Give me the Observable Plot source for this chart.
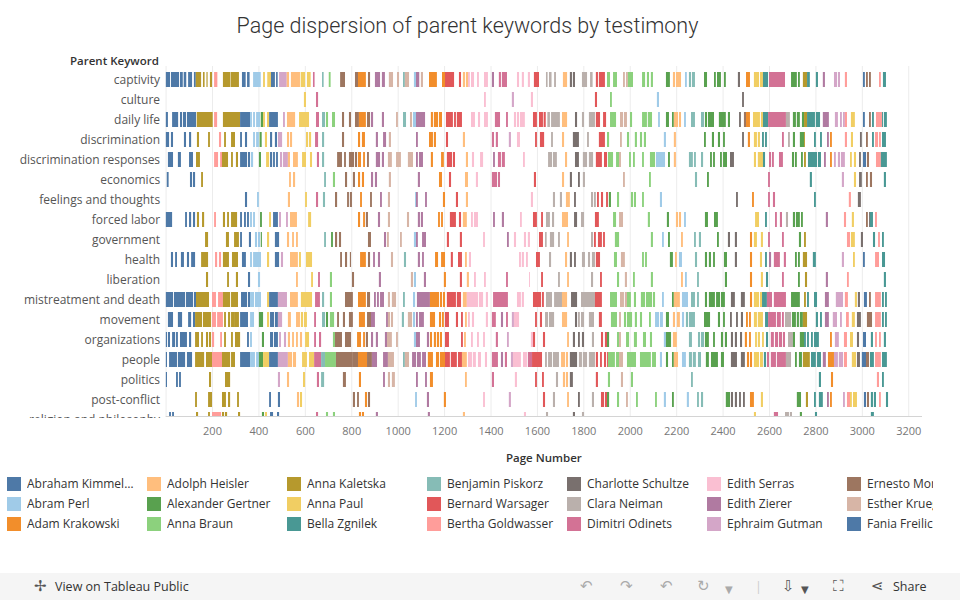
<!DOCTYPE html>
<html><head><meta charset="utf-8">
<script src="https://cdn.jsdelivr.net/npm/d3@7"></script>
<script src="https://cdn.jsdelivr.net/npm/@observablehq/plot@0.6"></script>
<style>
body{margin:0;width:960px;height:600px;overflow:hidden;background:#fff;font-family:"Open Sans",sans-serif;position:relative}
#title{position:absolute;top:12px;left:0;width:935px;text-align:center;font-family:Roboto,sans-serif;font-weight:300;font-size:21.5px;color:#333;line-height:28px}
#chart{position:absolute;top:0;left:0}
#scrollmask{position:absolute;left:0;top:418px;width:164px;height:14px;background:#fff}
.axt{position:absolute;font-family:"Open Sans",sans-serif;font-weight:600;font-size:11.5px;color:#333;line-height:16px;white-space:nowrap}
#legend{position:absolute;left:0;top:470px;width:933px;height:70px;overflow:hidden}
.li{position:absolute;height:14px}
.sw{position:absolute;left:0;top:0;width:14px;height:14px}
.lt{position:absolute;left:20px;top:-2px;width:112px;font-size:12px;line-height:18px;color:#333;white-space:nowrap;overflow:hidden;text-overflow:ellipsis}
#bar{position:absolute;left:0;top:573px;width:960px;height:27px;background:#f5f5f5;font-size:12.5px;color:#333}
#bar span{position:absolute;top:5px;line-height:17px;white-space:nowrap}
.ic{color:#aaa;font-family:"DejaVu Sans",sans-serif;font-size:15px}
</style></head><body>
<div id="title">Page dispersion of parent keywords by testimony</div>
<div id="chart"></div>
<div id="scrollmask"></div>
<div class="axt" id="ylab" style="left:70px;top:53px">Parent Keyword</div>
<div class="axt" id="xlab" style="left:506px;top:450px">Page Number</div>
<div id="legend"></div>
<div id="bar">
<span class="ic" style="left:34px;color:#555">✢</span><span style="left:55px">View on Tableau Public</span>
<span class="ic" style="left:580px">↶</span><span class="ic" style="left:620px">↷</span>
<span class="ic" style="left:660px">↶</span><span class="ic" style="left:697px">↻</span><span class="ic" style="left:725px;font-size:10px;top:8px">▼</span>
<span style="left:755px;color:#ccc">|</span>
<span class="ic" style="left:782px;color:#555">⇩</span><span class="ic" style="left:801px;font-size:10px;top:8px;color:#555">▼</span>
<span class="ic" style="left:833px;color:#555">⛶</span>
<span class="ic" style="left:871px;color:#555">⋖</span><span style="left:893px">Share</span>
</div>
<script>
// ---- testimonies (legend order) and colours ----
const testimonies = ["Abraham Kimmelman","Abram Perl","Adam Krakowski","Adolph Heisler","Alexander Gertner","Anna Braun","Anna Kaletska","Anna Paul","Bella Zgnilek","Benjamin Piskorz","Bernard Warsager","Bertha Goldwasser","Charlotte Schultze","Clara Neiman","Dimitri Odinets","Edith Serras","Edith Zierer","Ephraim Gutman","Ernesto Moreno","Esther Krueger","Fania Freilich"];
const testimonyColors = ["#4e79a7","#a0cbe8","#f28e2b","#ffbe7d","#59a14f","#8cd17d","#b6992d","#f1ce63","#499894","#86bcb6","#e15759","#ff9d9a","#79706e","#bab0ac","#d37295","#fabfd2","#b07aa1","#d4a6c8","#9d7660","#d7b5a6","#4e79a7"];
// short codes used in the page-span lists below
const codes = {B:"Abraham Kimmelman",LB:"Abram Perl",O:"Adam Krakowski",LO:"Adolph Heisler",G:"Alexander Gertner",LG:"Anna Braun",K:"Anna Kaletska",Y:"Anna Paul",T:"Bella Zgnilek",LT:"Benjamin Piskorz",R:"Bernard Warsager",LR:"Bertha Goldwasser",DG:"Charlotte Schultze",LGr:"Clara Neiman",P:"Dimitri Odinets",LP:"Edith Serras",U:"Edith Zierer",LU:"Ephraim Gutman",Br:"Ernesto Moreno",Tn:"Esther Krueger"};

const keywords = ["captivity","culture","daily life","discrimination","discrimination responses","economics","feelings and thoughts","forced labor","government","health","liberation","mistreatment and death","movement","organizations","people","politics","post-conflict","religion and philosophy"];
const xTicks = [200,400,600,800,1000,1200,1400,1600,1800,2000,2200,2400,2600,2800,3000,3200];
const gridTicks = [0,200,400,600,800,1000,1200,1400,1600,1800,2000,2200,2400,2600,2800,3000,3200];

// ---- page spans [first page, last page, testimony code] per keyword ----
const captivity = [[0,19,"B"],[23,58,"B"],[62,74,"B"],[78,89,"B"],[97,114,"B"],[122,130,"B"],[130,153,"K"],[161,168,"K"],[176,181,"K"],[191,200,"K"],[209,223,"LR"],[247,278,"K"],[280,316,"K"],[329,345,"B"],[351,362,"B"],[377,410,"LB"],[420,428,"Y"],[438,454,"Y"],[454,471,"B"],[476,483,"B"],[489,522,"LU"],[522,532,"LO"],[540,579,"LO"],[582,601,"Y"],[609,625,"Y"],[635,642,"P"],[674,681,"LT"],[703,711,"LG"],[752,773,"Br"],[816,829,"Br"],[829,863,"O"],[872,881,"Br"],[902,924,"U"],[932,945,"U"],[962,980,"Tn"],[997,1006,"Tn"],[1023,1031,"LT"],[1031,1049,"Tn"],[1070,1079,"LB"],[1079,1093,"U"],[1100,1109,"Tn"],[1135,1169,"O"],[1191,1204,"O"],[1204,1243,"R"],[1264,1273,"R"],[1281,1290,"LO"],[1294,1303,"LO"],[1303,1311,"LP"],[1316,1329,"LP"],[1342,1350,"LP"],[1372,1389,"LP"],[1406,1415,"U"],[1436,1445,"P"],[1449,1471,"P"],[1514,1523,"LP"],[1535,1544,"LP"],[1561,1570,"LP"],[1587,1609,"R"],[1639,1646,"LGr"],[1652,1663,"LGr"],[1674,1682,"LGr"],[1712,1730,"LO"],[1742,1751,"DG"],[1755,1764,"DG"],[1794,1816,"LGr"],[1829,1840,"LGr"],[1854,1863,"R"],[1867,1893,"R"],[1902,1915,"LG"],[1928,1945,"LG"],[1971,1979,"Tn"],[1984,1992,"Tn"],[1992,2014,"LG"],[2053,2066,"LG"],[2074,2083,"LG"],[2091,2100,"LG"],[2156,2173,"G"],[2186,2195,"LO"],[2199,2221,"LO"],[2238,2246,"LB"],[2255,2264,"LT"],[2268,2281,"LT"],[2320,2333,"G"],[2363,2371,"G"],[2376,2393,"G"],[2406,2414,"G"],[2466,2475,"DG"],[2501,2518,"O"],[2535,2557,"Y"],[2561,2574,"Y"],[2574,2596,"T"],[2600,2669,"P"],[2695,2720,"G"],[2725,2733,"G"],[2746,2764,"K"],[2764,2776,"T"],[2802,2811,"T"],[2832,2841,"U"],[2880,2893,"LU"],[2897,2906,"LU"],[2927,2936,"LR"],[3005,3013,"B"],[3018,3026,"Br"],[3031,3039,"Br"],[3074,3082,"LR"],[3091,3104,"T"]];
const culture = [[596,605,"Y"],[648,657,"P"],[1372,1380,"LP"],[1492,1501,"LU"],[1574,1583,"LP"],[1850,1859,"R"],[1915,1923,"LG"],[2117,2126,"LB"],[2484,2492,"DG"]];
const dailyLife = [[0,10,"B"],[28,54,"B"],[62,71,"B"],[75,88,"B"],[92,131,"B"],[134,203,"K"],[209,222,"LR"],[247,321,"K"],[321,364,"B"],[364,372,"LB"],[377,385,"LB"],[390,407,"LB"],[410,420,"G"],[420,428,"Y"],[437,446,"Y"],[446,484,"B"],[506,514,"LU"],[523,558,"LO"],[575,618,"Y"],[648,661,"P"],[674,687,"LT"],[691,700,"LG"],[717,730,"LG"],[760,769,"Br"],[790,799,"Br"],[816,833,"Br"],[833,863,"O"],[868,881,"Br"],[885,894,"U"],[932,941,"U"],[993,1001,"Tn"],[1023,1036,"LT"],[1053,1062,"Tn"],[1066,1079,"LB"],[1079,1118,"U"],[1143,1152,"O"],[1156,1174,"O"],[1178,1191,"O"],[1208,1238,"R"],[1243,1251,"R"],[1255,1277,"R"],[1316,1333,"LP"],[1346,1355,"LP"],[1372,1389,"LP"],[1419,1441,"P"],[1467,1475,"P"],[1501,1510,"LP"],[1514,1523,"LP"],[1527,1548,"LP"],[1583,1600,"R"],[1609,1626,"R"],[1629,1638,"R"],[1645,1656,"LGr"],[1661,1699,"LGr"],[1708,1730,"LO"],[1764,1773,"DG"],[1794,1803,"LGr"],[1824,1850,"LGr"],[1854,1872,"R"],[1885,1898,"R"],[1915,1941,"LG"],[1958,1971,"Tn"],[1975,1988,"Tn"],[2001,2010,"LG"],[2053,2074,"LG"],[2078,2096,"LG"],[2122,2130,"LB"],[2156,2169,"G"],[2182,2190,"G"],[2190,2208,"LO"],[2212,2221,"LO"],[2234,2242,"LB"],[2264,2281,"LT"],[2307,2320,"LT"],[2324,2333,"G"],[2337,2363,"G"],[2384,2414,"G"],[2423,2432,"G"],[2471,2479,"DG"],[2492,2501,"Br"],[2501,2518,"O"],[2531,2561,"Y"],[2565,2574,"Y"],[2574,2596,"T"],[2596,2673,"P"],[2673,2690,"LGr"],[2703,2716,"G"],[2720,2733,"G"],[2742,2751,"G"],[2751,2764,"K"],[2764,2798,"T"],[2802,2820,"T"],[2832,2858,"U"],[2884,2897,"LU"],[2906,2914,"LU"],[2919,2927,"LU"],[2927,2936,"LR"],[2953,2970,"Y"],[3005,3013,"B"],[3031,3039,"Br"],[3044,3052,"T"],[3061,3087,"LR"],[3087,3091,"T"],[3095,3108,"T"]];
const discrimination = [[0,15,"B"],[23,32,"B"],[79,88,"B"],[101,110,"B"],[135,144,"K"],[183,191,"K"],[230,239,"LR"],[252,260,"K"],[282,299,"K"],[321,329,"B"],[342,351,"B"],[377,385,"LB"],[390,402,"LB"],[405,414,"G"],[428,437,"Y"],[450,459,"B"],[471,480,"B"],[484,502,"LU"],[523,532,"LO"],[536,545,"LO"],[605,614,"Y"],[618,627,"Y"],[644,657,"P"],[674,683,"LT"],[760,769,"Br"],[829,838,"O"],[846,859,"O"],[906,915,"U"],[937,950,"U"],[962,971,"Tn"],[1079,1087,"U"],[1135,1152,"O"],[1156,1165,"O"],[1208,1217,"R"],[1281,1290,"LO"],[1406,1415,"P"],[1423,1432,"P"],[1479,1488,"LU"],[1514,1527,"LP"],[1592,1600,"R"],[1613,1631,"R"],[1661,1669,"LGr"],[1708,1717,"LO"],[1755,1781,"DG"],[1816,1824,"LGr"],[1867,1893,"R"],[1902,1911,"LG"],[1958,1966,"Tn"],[1988,1997,"LG"],[2022,2031,"LG"],[2044,2053,"LG"],[2061,2070,"LG"],[2147,2156,"LB"],[2190,2199,"LO"],[2320,2328,"G"],[2354,2363,"G"],[2380,2389,"G"],[2402,2410,"G"],[2484,2492,"DG"],[2509,2518,"O"],[2535,2548,"Y"],[2552,2561,"Y"],[2570,2578,"T"],[2583,2591,"T"],[2656,2664,"P"],[2682,2690,"LGr"],[2703,2712,"G"],[2733,2751,"G"],[2751,2755,"K"],[2794,2802,"T"],[2820,2828,"T"],[2850,2858,"U"],[2863,2871,"O"],[2927,2936,"LR"],[2953,2962,"Y"],[2992,3000,"DG"],[3018,3026,"Br"],[3044,3052,"T"],[3057,3070,"LR"],[3074,3082,"LR"],[3087,3104,"T"]];
const discriminationResponses = [[10,32,"B"],[53,66,"B"],[101,118,"B"],[131,148,"K"],[209,226,"LR"],[235,243,"LR"],[243,269,"K"],[282,290,"K"],[303,312,"K"],[321,351,"B"],[355,364,"B"],[368,377,"LB"],[402,411,"G"],[433,446,"Y"],[450,459,"B"],[463,471,"B"],[476,484,"B"],[493,502,"LU"],[506,527,"LU"],[527,536,"LO"],[549,570,"LO"],[588,605,"Y"],[622,631,"Y"],[652,661,"P"],[674,683,"LT"],[739,760,"Br"],[769,777,"Br"],[790,812,"Br"],[816,825,"Br"],[829,842,"O"],[851,859,"O"],[868,876,"Br"],[906,924,"U"],[932,941,"U"],[958,975,"Tn"],[993,1014,"Tn"],[1044,1066,"Tn"],[1079,1087,"U"],[1092,1109,"U"],[1143,1152,"O"],[1187,1199,"O"],[1212,1234,"R"],[1238,1247,"R"],[1294,1303,"LO"],[1320,1329,"LP"],[1355,1368,"LP"],[1411,1419,"U"],[1432,1445,"P"],[1449,1462,"P"],[1540,1548,"LP"],[1648,1665,"LGr"],[1669,1686,"LGr"],[1721,1730,"LO"],[1764,1781,"DG"],[1798,1816,"LGr"],[1824,1842,"LGr"],[1854,1880,"R"],[1889,1902,"R"],[1906,1928,"LG"],[1941,1954,"LG"],[1954,1962,"Tn"],[1997,2005,"LG"],[2014,2022,"LG"],[2053,2061,"LG"],[2087,2109,"LG"],[2113,2152,"LB"],[2165,2173,"G"],[2190,2199,"LO"],[2255,2272,"LT"],[2277,2285,"LT"],[2307,2316,"LT"],[2346,2354,"G"],[2359,2367,"G"],[2389,2397,"G"],[2402,2419,"G"],[2432,2449,"DG"],[2535,2544,"Y"],[2552,2574,"Y"],[2574,2583,"T"],[2600,2609,"P"],[2613,2621,"P"],[2643,2660,"P"],[2699,2708,"G"],[2712,2720,"G"],[2738,2746,"G"],[2751,2759,"K"],[2768,2807,"T"],[2811,2824,"T"],[2837,2845,"U"],[2863,2871,"O"],[2880,2888,"LU"],[2897,2906,"LU"],[2910,2927,"LU"],[2949,2957,"Y"],[2966,2975,"Y"],[2988,2996,"DG"],[3005,3018,"B"],[3022,3031,"Br"],[3061,3082,"LR"],[3082,3108,"T"]];
const economics = [[5,13,"B"],[105,114,"B"],[118,127,"B"],[153,161,"K"],[532,540,"LO"],[549,558,"LO"],[683,691,"LT"],[721,730,"LG"],[773,782,"Br"],[807,816,"Br"],[829,838,"O"],[846,855,"O"],[885,894,"U"],[902,911,"U"],[962,971,"Tn"],[1087,1096,"U"],[1178,1191,"O"],[1221,1230,"R"],[1290,1303,"LO"],[1337,1346,"LP"],[1406,1428,"P"],[1432,1441,"P"],[1587,1596,"R"],[1708,1717,"LO"],[1742,1751,"DG"],[1777,1785,"DG"],[1798,1807,"LGr"],[1971,1979,"Tn"],[2083,2091,"LG"],[2281,2290,"LT"],[2333,2341,"G"],[2596,2604,"P"],[2776,2785,"T"],[2914,2923,"LU"],[2966,2975,"Y"],[2988,3000,"DG"],[3018,3026,"Br"],[3035,3044,"Br"],[3095,3104,"T"]];
const feelingsAndThoughts = [[342,351,"B"],[394,402,"LB"],[527,536,"LO"],[601,609,"Y"],[648,657,"P"],[678,687,"LT"],[730,739,"Br"],[782,790,"Br"],[794,803,"Br"],[838,846,"O"],[881,889,"Br"],[924,932,"U"],[958,967,"Tn"],[1075,1079,"LB"],[1079,1087,"U"],[1118,1126,"U"],[1195,1204,"O"],[1251,1260,"R"],[1294,1303,"LO"],[1574,1583,"LP"],[1669,1678,"LGr"],[1699,1708,"LGr"],[1725,1742,"LO"],[1760,1768,"DG"],[1833,1842,"LGr"],[1846,1854,"LGr"],[1859,1867,"R"],[1876,1885,"R"],[1898,1906,"R"],[1910,1919,"G"],[1945,1954,"LG"],[2005,2014,"LG"],[2018,2027,"LG"],[2053,2061,"LG"],[2130,2139,"LB"],[2458,2466,"DG"],[2527,2535,"O"],[2596,2604,"P"],[2617,2626,"P"],[2794,2802,"T"],[2944,2953,"LR"],[2983,2996,"DG"]];
const forcedLabor = [[0,28,"B"],[84,92,"B"],[101,110,"B"],[118,127,"B"],[135,144,"K"],[157,166,"K"],[209,217,"LR"],[247,256,"K"],[265,273,"K"],[282,308,"K"],[321,329,"B"],[338,346,"B"],[351,359,"B"],[364,372,"LB"],[377,385,"LB"],[407,415,"G"],[446,454,"Y"],[463,484,"B"],[489,497,"LU"],[519,527,"LU"],[536,566,"LO"],[614,627,"Y"],[829,838,"O"],[851,859,"O"],[863,872,"Br"],[915,924,"U"],[958,967,"Tn"],[1040,1049,"Tn"],[1087,1096,"U"],[1100,1109,"U"],[1174,1182,"O"],[1187,1195,"O"],[1225,1251,"R"],[1264,1273,"R"],[1281,1298,"LO"],[1316,1324,"LP"],[1329,1346,"LP"],[1411,1419,"U"],[1449,1458,"U"],[1527,1535,"LP"],[1583,1600,"R"],[1618,1626,"R"],[1639,1656,"LGr"],[1665,1674,"LGr"],[1708,1734,"LO"],[1760,1773,"DG"],[1790,1803,"LGr"],[1850,1867,"R"],[1928,1941,"LG"],[1954,1971,"Tn"],[2078,2087,"LG"],[2160,2169,"G"],[2199,2208,"LO"],[2212,2221,"LO"],[2234,2242,"LB"],[2324,2337,"G"],[2363,2380,"G"],[2540,2557,"Y"],[2583,2591,"T"],[2626,2634,"P"],[2647,2656,"P"],[2673,2682,"LGr"],[2703,2712,"G"],[2716,2733,"G"],[2738,2746,"G"],[2845,2854,"U"],[2923,2932,"LR"],[2957,2966,"Y"],[3018,3026,"Br"],[3031,3035,"DG"],[3035,3048,"T"],[3057,3065,"LR"]];
const government = [[170,183,"K"],[260,273,"K"],[295,316,"K"],[321,329,"B"],[359,368,"B"],[385,394,"LB"],[398,407,"LB"],[410,415,"G"],[437,446,"Y"],[471,489,"B"],[523,532,"LO"],[545,553,"LO"],[562,570,"LO"],[683,691,"LT"],[713,721,"G"],[730,739,"Br"],[747,756,"Br"],[872,885,"Br"],[941,950,"U"],[954,962,"Tn"],[1010,1018,"Tn"],[1070,1079,"LB"],[1079,1087,"U"],[1105,1122,"U"],[1212,1221,"R"],[1268,1277,"R"],[1368,1376,"LP"],[1471,1479,"U"],[1501,1510,"LP"],[1544,1553,"LP"],[1561,1570,"LP"],[1609,1626,"R"],[1635,1642,"LGr"],[1656,1674,"LGr"],[1691,1699,"LGr"],[1730,1738,"LO"],[1833,1842,"LGr"],[1846,1854,"R"],[1863,1880,"R"],[1885,1893,"R"],[1936,1954,"LG"],[2091,2100,"LG"],[2139,2147,"LB"],[2165,2173,"G"],[2221,2229,"LO"],[2277,2285,"LT"],[2298,2307,"LT"],[2376,2384,"G"],[2423,2432,"DG"],[2453,2462,"DG"],[2518,2527,"O"],[2535,2548,"Y"],[2565,2574,"Y"],[2596,2604,"P"],[2656,2664,"P"],[2729,2738,"G"],[2751,2759,"K"],[2936,2949,"LR"],[2953,2970,"Y"],[2996,3005,"DG"],[3048,3057,"T"],[3070,3078,"LR"],[3087,3095,"T"]];
const health = [[23,32,"B"],[41,49,"B"],[66,79,"B"],[92,101,"B"],[110,127,"B"],[153,183,"K"],[213,222,"LR"],[230,239,"LR"],[247,273,"K"],[286,312,"K"],[329,346,"B"],[364,372,"LB"],[377,411,"LB"],[437,446,"Y"],[471,489,"B"],[497,506,"LU"],[536,570,"LO"],[575,583,"Y"],[605,631,"Y"],[752,760,"Br"],[773,782,"Br"],[794,799,"Br"],[838,863,"O"],[872,881,"Br"],[894,902,"U"],[915,924,"U"],[971,980,"Tn"],[1027,1036,"LT"],[1087,1096,"U"],[1105,1113,"U"],[1161,1174,"O"],[1187,1204,"O"],[1229,1238,"R"],[1260,1277,"R"],[1290,1298,"LO"],[1307,1316,"LP"],[1523,1531,"LP"],[1535,1544,"LP"],[1553,1561,"LP"],[1596,1613,"R"],[1652,1661,"LGr"],[1721,1730,"LO"],[1742,1751,"DG"],[1760,1768,"DG"],[1794,1807,"LGr"],[1820,1829,"LGr"],[1837,1850,"LGr"],[1854,1872,"R"],[1932,1945,"LG"],[1962,1979,"Tn"],[2053,2061,"LG"],[2066,2074,"LG"],[2173,2186,"G"],[2195,2203,"LO"],[2212,2225,"LB"],[2281,2290,"LT"],[2324,2333,"G"],[2341,2350,"G"],[2359,2367,"G"],[2406,2419,"G"],[2453,2462,"DG"],[2518,2527,"O"],[2561,2570,"Y"],[2583,2591,"T"],[2600,2609,"U"],[2621,2647,"P"],[2664,2673,"P"],[2712,2720,"G"],[2725,2733,"G"],[2746,2764,"K"],[2789,2802,"T"],[2914,2923,"LU"],[2962,2970,"Y"],[3005,3013,"B"],[3057,3074,"LR"],[3087,3100,"T"]];
const liberation = [[174,183,"K"],[265,273,"K"],[303,312,"K"],[355,364,"B"],[398,407,"LB"],[562,570,"LO"],[627,635,"Y"],[657,665,"P"],[708,717,"LG"],[803,812,"Br"],[919,928,"U"],[1057,1066,"Tn"],[1070,1079,"LB"],[1113,1122,"U"],[1199,1208,"O"],[1268,1277,"R"],[1298,1307,"LO"],[1329,1337,"LP"],[1372,1380,"LP"],[1467,1475,"P"],[1566,1570,"LP"],[1618,1626,"R"],[1691,1699,"LGr"],[1730,1738,"LO"],[1833,1842,"LGr"],[1872,1880,"R"],[1945,1954,"LG"],[1979,1988,"Tn"],[2014,2022,"LG"],[2091,2100,"LG"],[2221,2229,"LO"],[2238,2246,"LB"],[2290,2298,"LT"],[2410,2419,"G"],[2518,2527,"O"],[2565,2574,"Y"],[2587,2596,"T"],[2656,2664,"P"],[2725,2733,"G"],[2755,2764,"K"],[2845,2854,"U"],[2936,2944,"LR"],[3095,3104,"T"]];
const mistreatmentAndDeath = [[0,32,"B"],[36,84,"B"],[88,118,"B"],[122,131,"B"],[131,187,"K"],[200,217,"LR"],[226,247,"LR"],[247,278,"K"],[282,312,"K"],[325,351,"B"],[355,364,"B"],[364,381,"LB"],[385,411,"LB"],[437,446,"Y"],[446,484,"B"],[484,523,"LU"],[536,570,"LO"],[583,631,"Y"],[644,665,"P"],[674,683,"LT"],[708,717,"LG"],[773,807,"Br"],[829,863,"O"],[868,881,"Br"],[898,906,"U"],[911,919,"U"],[924,941,"U"],[958,967,"Tn"],[975,993,"Tn"],[1023,1031,"LT"],[1066,1075,"LB"],[1083,1139,"U"],[1139,1178,"O"],[1182,1191,"O"],[1195,1204,"O"],[1212,1251,"R"],[1255,1273,"R"],[1281,1298,"LO"],[1298,1346,"LP"],[1350,1368,"LP"],[1380,1389,"LP"],[1411,1475,"P"],[1514,1531,"LP"],[1535,1544,"LP"],[1583,1618,"R"],[1622,1630,"R"],[1639,1665,"LGr"],[1674,1708,"LGr"],[1708,1730,"LO"],[1747,1773,"DG"],[1790,1850,"LGr"],[1850,1880,"R"],[1915,1945,"LG"],[1958,1975,"Tn"],[1979,1988,"Tn"],[1988,2005,"LG"],[2018,2027,"LG"],[2048,2066,"LG"],[2070,2096,"LG"],[2100,2109,"LG"],[2139,2147,"LB"],[2182,2190,"G"],[2190,2216,"LO"],[2225,2251,"LB"],[2264,2281,"LT"],[2290,2298,"LT"],[2324,2333,"G"],[2341,2367,"G"],[2372,2389,"G"],[2393,2410,"G"],[2436,2453,"DG"],[2479,2496,"DG"],[2518,2527,"O"],[2535,2557,"Y"],[2561,2570,"Y"],[2570,2591,"T"],[2591,2613,"P"],[2621,2673,"P"],[2695,2733,"G"],[2751,2759,"K"],[2764,2772,"T"],[2794,2807,"T"],[2841,2858,"U"],[2888,2919,"LU"],[2927,2940,"LR"],[2970,2979,"Y"],[2983,2992,"DG"],[3009,3022,"B"],[3031,3039,"Br"],[3057,3082,"LR"],[3087,3095,"T"],[3100,3108,"T"]];
const movement = [[10,32,"B"],[53,71,"B"],[97,110,"B"],[118,127,"B"],[127,157,"K"],[161,196,"K"],[200,217,"LR"],[222,247,"LR"],[252,260,"K"],[269,278,"K"],[282,295,"K"],[295,316,"K"],[321,355,"B"],[364,381,"LB"],[402,420,"G"],[437,446,"Y"],[450,467,"B"],[471,484,"B"],[484,502,"LU"],[527,540,"LO"],[562,579,"LO"],[583,592,"Y"],[596,609,"Y"],[640,648,"P"],[674,687,"LT"],[691,700,"G"],[708,726,"LG"],[739,747,"Br"],[764,773,"Br"],[790,807,"Br"],[833,859,"O"],[868,885,"Br"],[885,902,"U"],[950,958,"U"],[958,967,"Tn"],[971,980,"Tn"],[1018,1027,"LT"],[1044,1062,"Tn"],[1066,1075,"LB"],[1079,1087,"U"],[1092,1113,"U"],[1139,1161,"O"],[1178,1187,"O"],[1191,1199,"O"],[1204,1221,"R"],[1251,1260,"R"],[1273,1281,"R"],[1290,1298,"LO"],[1303,1311,"LP"],[1320,1329,"LP"],[1380,1389,"LP"],[1406,1423,"P"],[1445,1454,"U"],[1467,1475,"P"],[1492,1501,"LU"],[1501,1523,"LP"],[1592,1600,"R"],[1613,1622,"R"],[1635,1648,"LGr"],[1652,1674,"LGr"],[1708,1730,"LO"],[1764,1773,"DG"],[1777,1785,"LGr"],[1790,1803,"LGr"],[1824,1846,"LGr"],[1867,1880,"R"],[1919,1945,"LG"],[1954,1962,"Tn"],[1975,1984,"LG"],[1988,2010,"LG"],[2022,2031,"LG"],[2044,2053,"LG"],[2083,2091,"LG"],[2109,2126,"LB"],[2130,2143,"LB"],[2156,2169,"G"],[2186,2195,"LO"],[2203,2216,"LO"],[2225,2234,"LB"],[2242,2251,"LT"],[2255,2281,"LT"],[2320,2346,"G"],[2380,2389,"G"],[2402,2410,"G"],[2432,2440,"DG"],[2458,2466,"DG"],[2479,2488,"DG"],[2501,2509,"O"],[2514,2522,"O"],[2535,2548,"Y"],[2552,2574,"Y"],[2583,2596,"T"],[2596,2630,"P"],[2634,2651,"P"],[2656,2664,"P"],[2669,2695,"LGr"],[2699,2716,"G"],[2720,2729,"G"],[2733,2746,"G"],[2746,2764,"K"],[2802,2811,"T"],[2820,2828,"T"],[2841,2858,"U"],[2875,2893,"LU"],[2906,2914,"LU"],[2932,2944,"LR"],[2957,2970,"Y"],[2979,2996,"DG"],[3022,3044,"Br"],[3057,3082,"LR"],[3087,3095,"T"],[3100,3108,"T"]];
const organizations = [[0,6,"B"],[10,19,"B"],[28,41,"B"],[45,53,"B"],[62,92,"B"],[101,110,"B"],[127,144,"K"],[153,161,"K"],[174,183,"K"],[187,196,"K"],[200,209,"LR"],[235,243,"LR"],[252,260,"K"],[282,290,"K"],[299,321,"K"],[351,359,"B"],[364,372,"LB"],[415,424,"G"],[450,463,"B"],[467,484,"B"],[489,497,"LU"],[510,519,"LU"],[527,536,"LO"],[545,553,"LO"],[562,570,"LO"],[579,588,"LO"],[601,618,"Y"],[640,648,"P"],[661,670,"P"],[721,730,"LG"],[730,760,"Br"],[773,799,"Br"],[825,842,"O"],[851,859,"O"],[863,872,"Br"],[885,894,"U"],[906,915,"U"],[945,954,"U"],[954,975,"Tn"],[993,1001,"Tn"],[1070,1079,"LB"],[1079,1096,"U"],[1126,1135,"U"],[1139,1148,"O"],[1156,1165,"O"],[1169,1178,"O"],[1182,1191,"O"],[1204,1221,"R"],[1273,1281,"R"],[1286,1294,"LO"],[1316,1324,"LP"],[1342,1350,"LP"],[1368,1376,"LP"],[1423,1432,"P"],[1471,1479,"LU"],[1574,1583,"LP"],[1583,1592,"R"],[1626,1635,"R"],[1730,1738,"LO"],[1755,1764,"DG"],[1777,1785,"DG"],[1794,1803,"DG"],[1837,1846,"LGr"],[1876,1885,"R"],[1893,1902,"R"],[1902,1911,"G"],[1945,1954,"LG"],[1954,1962,"Tn"],[1984,1997,"LG"],[2018,2031,"LG"],[2057,2070,"LG"],[2087,2096,"LG"],[2147,2156,"LB"],[2156,2178,"G"],[2186,2203,"LO"],[2255,2268,"LT"],[2294,2303,"LT"],[2307,2320,"LT"],[2324,2341,"G"],[2359,2367,"G"],[2393,2402,"G"],[2410,2419,"G"],[2436,2445,"DG"],[2453,2462,"DG"],[2475,2484,"DG"],[2496,2505,"O"],[2514,2522,"O"],[2540,2548,"Y"],[2552,2561,"Y"],[2570,2578,"Y"],[2587,2596,"T"],[2608,2621,"P"],[2626,2639,"P"],[2643,2656,"P"],[2660,2669,"P"],[2682,2703,"LGr"],[2703,2712,"G"],[2733,2751,"G"],[2751,2759,"T"],[2764,2772,"T"],[2781,2789,"T"],[2794,2815,"T"],[2863,2871,"O"],[2884,2901,"LU"],[2923,2936,"LR"],[2949,2962,"Y"],[2979,2988,"DG"],[3005,3018,"B"],[3039,3048,"T"],[3057,3065,"LR"],[3074,3082,"LR"],[3095,3104,"T"]];
const people = [[0,6,"B"],[15,49,"B"],[53,84,"B"],[92,114,"B"],[127,166,"K"],[174,200,"K"],[200,243,"LR"],[243,278,"K"],[282,299,"K"],[321,364,"B"],[364,385,"LB"],[390,402,"LB"],[402,420,"G"],[420,446,"Y"],[446,484,"B"],[484,527,"LU"],[527,545,"LO"],[549,562,"LO"],[588,609,"Y"],[618,640,"Y"],[640,670,"P"],[670,687,"LT"],[687,734,"LG"],[734,807,"Br"],[807,829,"Br"],[829,868,"O"],[868,889,"Br"],[889,911,"U"],[937,958,"U"],[958,984,"Tn"],[1023,1031,"LT"],[1031,1049,"Tn"],[1062,1079,"U"],[1083,1100,"U"],[1105,1122,"U"],[1130,1152,"O"],[1165,1178,"O"],[1182,1204,"O"],[1204,1225,"R"],[1229,1255,"R"],[1260,1277,"R"],[1277,1298,"LO"],[1303,1320,"LP"],[1324,1337,"LP"],[1346,1359,"LP"],[1376,1385,"LP"],[1406,1432,"P"],[1445,1454,"U"],[1462,1471,"P"],[1488,1497,"LU"],[1497,1531,"LP"],[1540,1557,"LP"],[1561,1579,"P"],[1579,1622,"R"],[1635,1643,"LGr"],[1648,1665,"LGr"],[1669,1695,"LGr"],[1704,1721,"LO"],[1725,1734,"LO"],[1742,1773,"DG"],[1781,1794,"LGr"],[1798,1816,"LGr"],[1824,1850,"LGr"],[1854,1863,"R"],[1872,1880,"R"],[1889,1898,"R"],[1902,1906,"R"],[1906,1936,"LG"],[1941,1954,"LG"],[1954,1971,"Tn"],[1988,2027,"LG"],[2044,2091,"LG"],[2096,2113,"LG"],[2130,2139,"LB"],[2156,2165,"G"],[2182,2190,"G"],[2190,2208,"LO"],[2225,2242,"LB"],[2255,2268,"LT"],[2272,2285,"LT"],[2294,2307,"LT"],[2328,2341,"G"],[2350,2380,"G"],[2393,2406,"G"],[2436,2462,"DG"],[2479,2496,"DG"],[2505,2514,"O"],[2518,2527,"O"],[2535,2557,"Y"],[2561,2574,"Y"],[2578,2587,"T"],[2591,2600,"P"],[2608,2630,"P"],[2634,2673,"P"],[2673,2695,"LGr"],[2712,2720,"G"],[2729,2742,"G"],[2746,2776,"K"],[2781,2802,"T"],[2807,2824,"T"],[2832,2845,"U"],[2854,2880,"O"],[2880,2897,"LU"],[2901,2919,"LU"],[2923,2936,"LR"],[2957,2975,"Y"],[2979,2992,"DG"],[3000,3018,"B"],[3018,3031,"Br"],[3035,3052,"T"],[3057,3082,"LR"],[3087,3108,"T"]];
const politics = [[0,6,"B"],[45,53,"B"],[58,66,"B"],[187,196,"K"],[256,278,"K"],[484,493,"LU"],[523,532,"LO"],[592,601,"Y"],[652,661,"P"],[670,683,"LT"],[764,777,"Br"],[833,842,"O"],[937,945,"U"],[958,967,"Tn"],[975,988,"Tn"],[1079,1087,"U"],[1118,1126,"U"],[1139,1152,"O"],[1290,1298,"LO"],[1406,1415,"P"],[1505,1514,"LP"],[1592,1600,"R"],[1622,1630,"R"],[1682,1691,"LGr"],[1712,1721,"LO"],[1725,1734,"LO"],[1742,1755,"DG"],[1854,1863,"R"],[1906,1915,"LG"],[1962,1971,"Tn"],[2005,2014,"LG"],[2264,2272,"LT"],[2815,2824,"T"],[2867,2876,"O"],[3065,3074,"LR"],[3087,3095,"T"]];
const postConflict = [[127,135,"K"],[183,200,"K"],[243,260,"K"],[269,278,"K"],[308,316,"K"],[446,454,"B"],[484,493,"B"],[566,575,"LO"],[579,588,"Y"],[807,816,"Br"],[825,833,"Br"],[859,868,"O"],[872,881,"Br"],[1075,1083,"LB"],[1126,1135,"U"],[1199,1208,"O"],[1368,1376,"LP"],[1479,1488,"LU"],[1626,1635,"R"],[1669,1678,"LGr"],[1730,1738,"LO"],[1777,1785,"DG"],[1837,1846,"LGr"],[1876,1889,"R"],[1893,1902,"R"],[1902,1911,"G"],[1945,1954,"LG"],[1984,1992,"Tn"],[2027,2035,"LG"],[2109,2117,"LG"],[2147,2156,"LB"],[2182,2190,"G"],[2246,2255,"LB"],[2290,2298,"LT"],[2307,2316,"LT"],[2414,2432,"G"],[2436,2445,"DG"],[2453,2462,"DG"],[2471,2479,"DG"],[2488,2496,"DG"],[2518,2535,"O"],[2565,2574,"Y"],[2720,2738,"G"],[2759,2768,"K"],[2794,2802,"T"],[2815,2832,"T"],[2850,2858,"U"],[2863,2871,"O"],[2919,2927,"LU"],[2936,2949,"LR"],[2949,2957,"Y"],[2962,2979,"Y"],[3009,3018,"B"],[3022,3031,"Br"],[3039,3048,"T"],[3052,3061,"T"],[3074,3082,"LR"],[3104,3113,"T"]];
const religionAndPhilosophy = [[15,23,"B"],[28,36,"B"],[131,140,"K"],[183,191,"K"],[200,239,"LR"],[243,252,"K"],[256,265,"K"],[312,321,"K"],[415,424,"G"],[428,437,"Y"],[450,463,"B"],[480,489,"B"],[648,657,"P"],[691,700,"LG"],[721,730,"LG"],[833,842,"O"],[846,855,"O"],[906,915,"U"],[1130,1139,"U"],[1281,1290,"LO"],[1544,1553,"LP"],[1639,1648,"LGr"],[1755,1764,"DG"],[1794,1803,"LGr"],[2535,2544,"Y"],[2621,2639,"P"],[2669,2686,"LGr"],[2690,2699,"LGr"],[2733,2742,"G"],[2798,2807,"T"],[3039,3052,"T"]];

const rowSpans = [captivity,culture,dailyLife,discrimination,discriminationResponses,economics,feelingsAndThoughts,forcedLabor,government,health,liberation,mistreatmentAndDeath,movement,organizations,people,politics,postConflict,religionAndPhilosophy];

const spans = rowSpans.flatMap((rows, i) => rows.map(([s, e, c]) => ({keyword: keywords[i], start: s, end: e, testimony: codes[c]})));

const chart = Plot.plot({
  width: 960,
  height: 470,
  marginTop: 66,
  marginBottom: 54,
  marginLeft: 165.6,
  marginRight: 39,
  style: {fontFamily: "'Open Sans', sans-serif", background: "transparent"},
  x: {domain: [0, 3255]},
  y: {domain: keywords, range: [69.5, 429.5], paddingInner: 0.25, paddingOuter: 0.125, align: 0.5},
  color: {domain: testimonies, range: testimonyColors},
  marks: [
    Plot.gridX(gridTicks, {stroke: "#ececec", strokeOpacity: 1, strokeWidth: 1}),
    Plot.barX(spans, {x1: "start", x2: "end", y: "keyword", fill: "testimony", clip: true}),
    Plot.frame({anchor: "bottom", stroke: "#d4d4d4", strokeOpacity: 1}),
    Plot.axisX(xTicks, {anchor: "bottom", tickSize: 0, tickPadding: 11, fontSize: 11, color: "#777", label: null, tickFormat: d => String(d)}),
    Plot.axisY({anchor: "left", tickSize: 0, tickPadding: 6, fontSize: 12, color: "#555", label: null})
  ]
});
document.getElementById("chart").appendChild(chart);

// legend (column-major, 3 rows)
const legend = document.getElementById("legend");
testimonies.forEach((name, i) => {
  const col = Math.floor(i / 3), row = i % 3;
  const item = document.createElement("div");
  item.className = "li";
  item.style.left = (7 + col * 140) + "px";
  item.style.top = (7 + row * 20) + "px";
  item.style.width = "140px";
  const sw = document.createElement("div");
  sw.className = "sw"; sw.style.background = testimonyColors[i];
  const tx = document.createElement("div");
  tx.className = "lt"; tx.textContent = name;
  item.appendChild(sw); item.appendChild(tx);
  legend.appendChild(item);
});
</script>
</body></html>
